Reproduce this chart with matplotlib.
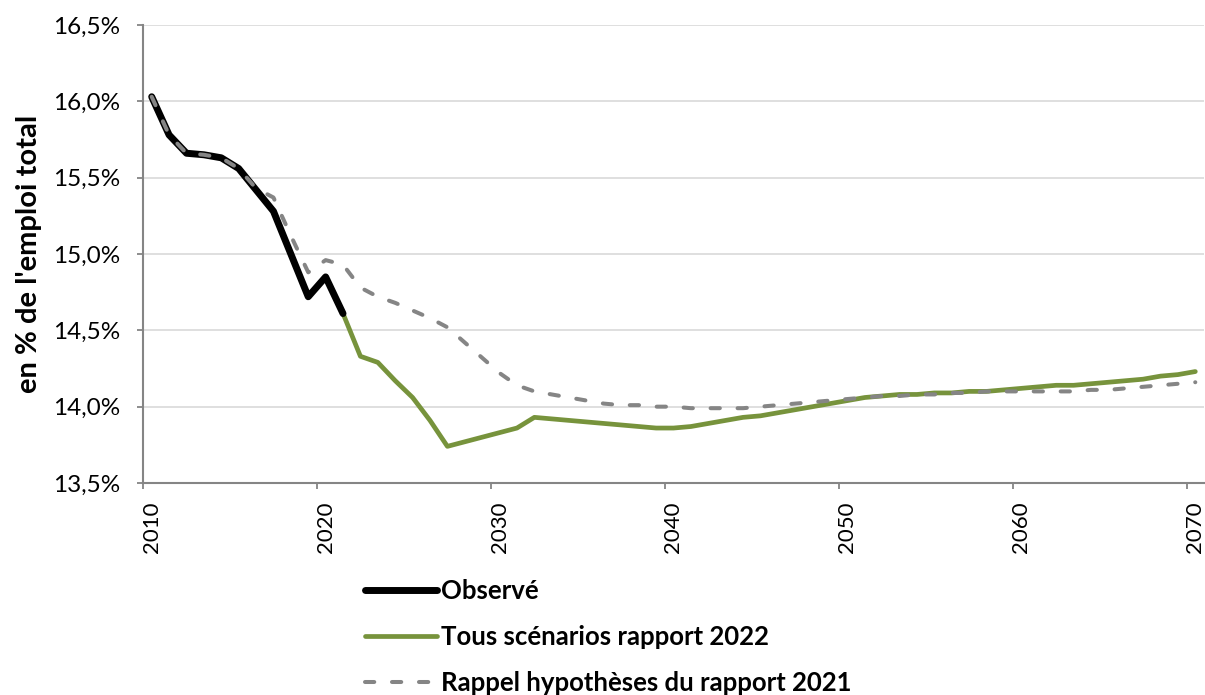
import numpy as np
import matplotlib.pyplot as plt
from matplotlib.ticker import FixedLocator, FuncFormatter

plt.rcParams['font.family'] = ['Lato', 'DejaVu Sans']

# observed 2010-2021
years_obs = list(range(2010, 2022))
obs = [16.03, 15.78, 15.66, 15.65, 15.63, 15.56, 15.42, 15.28, 15.00, 14.72, 14.85, 14.61]

# all scenarios 2022 report, 2021-2070
years_proj = list(range(2021, 2071))
proj_2022 = [14.61, 14.33, 14.29, 14.17, 14.06, 13.91, 13.74, 13.77, 13.80, 13.83,
             13.86, 13.93, 13.92, 13.91, 13.90, 13.89, 13.88, 13.87, 13.86, 13.86,
             13.87, 13.89, 13.91, 13.93, 13.94, 13.96, 13.98, 14.00, 14.02, 14.04,
             14.06, 14.07, 14.08, 14.08, 14.09, 14.09, 14.10, 14.10, 14.11, 14.12,
             14.13, 14.14, 14.14, 14.15, 14.16, 14.17, 14.18, 14.20, 14.21, 14.23]

# 2021 report assumptions, 2010-2070
years_2021 = list(range(2010, 2071))
rappel_2021 = [16.03, 15.78, 15.66, 15.65, 15.63, 15.56, 15.43, 15.37, 15.12, 14.88,
               14.96, 14.93, 14.78, 14.72, 14.68, 14.63, 14.58, 14.52, 14.42, 14.32,
               14.22, 14.14, 14.10, 14.08, 14.06, 14.04, 14.02, 14.01, 14.01, 14.00,
               14.00, 13.99, 13.99, 13.99, 13.99, 14.00, 14.01, 14.02, 14.03, 14.04,
               14.05, 14.06, 14.07, 14.07, 14.08, 14.08, 14.09, 14.09, 14.10, 14.10,
               14.10, 14.10, 14.10, 14.10, 14.11, 14.11, 14.12, 14.13, 14.14, 14.15,
               14.16]

label_years = [2010, 2020, 2030, 2040, 2050, 2060, 2070]
yticks = [13.5, 14.0, 14.5, 15.0, 15.5, 16.0, 16.5]

grey = '#858585'
green = '#77933C'

fig = plt.figure(figsize=(12.05, 6.95), dpi=100)
ax = fig.add_axes([143/1205, 1 - 483/695, (1204 - 143)/1205, (483 - 25)/695])

ax.plot(years_proj, proj_2022, color=green, lw=3.4, solid_capstyle='round', zorder=3,
        label='Tous scénarios rapport 2022')
ax.plot(years_obs, obs, color='black', lw=5.0, solid_capstyle='round', zorder=4,
        label='Observé')
ax.plot(years_2021, rappel_2021, color=grey, lw=2.9, dashes=(2.3, 4.4),
        dash_capstyle='round', zorder=5, label='Rappel hypothèses du rapport 2021')

ax.set_xlim(2009.5, 2070.5)
ax.set_ylim(13.5, 16.5)
ax.set_yticks(yticks)
ax.yaxis.set_major_formatter(FuncFormatter(lambda v, p: f"{v:.1f}%".replace('.', ',')))
ax.grid(axis='y', color='#d9d9d9', lw=1.2)
ax.set_axisbelow(True)

# labels at the year, tick marks half a year earlier
ax.set_xticks(label_years)
ax.set_xticklabels([str(y) for y in label_years], rotation=90)
ax.xaxis.set_minor_locator(FixedLocator([y - 0.5 for y in label_years]))
ax.tick_params(axis='x', which='major', length=0, pad=13, labelsize=16)
ax.tick_params(axis='x', which='minor', length=4.5, width=1.3, color=grey, direction='out')
ax.tick_params(axis='y', length=4.5, width=1.3, color=grey, labelsize=17.5, pad=12)

for s in ['top', 'right']:
    ax.spines[s].set_visible(False)
for s in ['left', 'bottom']:
    ax.spines[s].set_color(grey)
    ax.spines[s].set_linewidth(1.5)

ax.set_ylabel("en % de l'emploi total", fontsize=21, fontweight='bold', labelpad=8)

h, l = ax.get_legend_handles_labels()
order = [1, 0, 2]
fig.legend([h[i] for i in order], [l[i] for i in order], loc='upper left',
           bbox_to_anchor=(355/1205, 1 - 569/695), frameon=False,
           prop={'weight': 'bold', 'size': 18.5}, handlelength=2.8,
           handletextpad=0.15, labelspacing=0.85, borderaxespad=0)

fig.savefig('out.png', dpi=100)
